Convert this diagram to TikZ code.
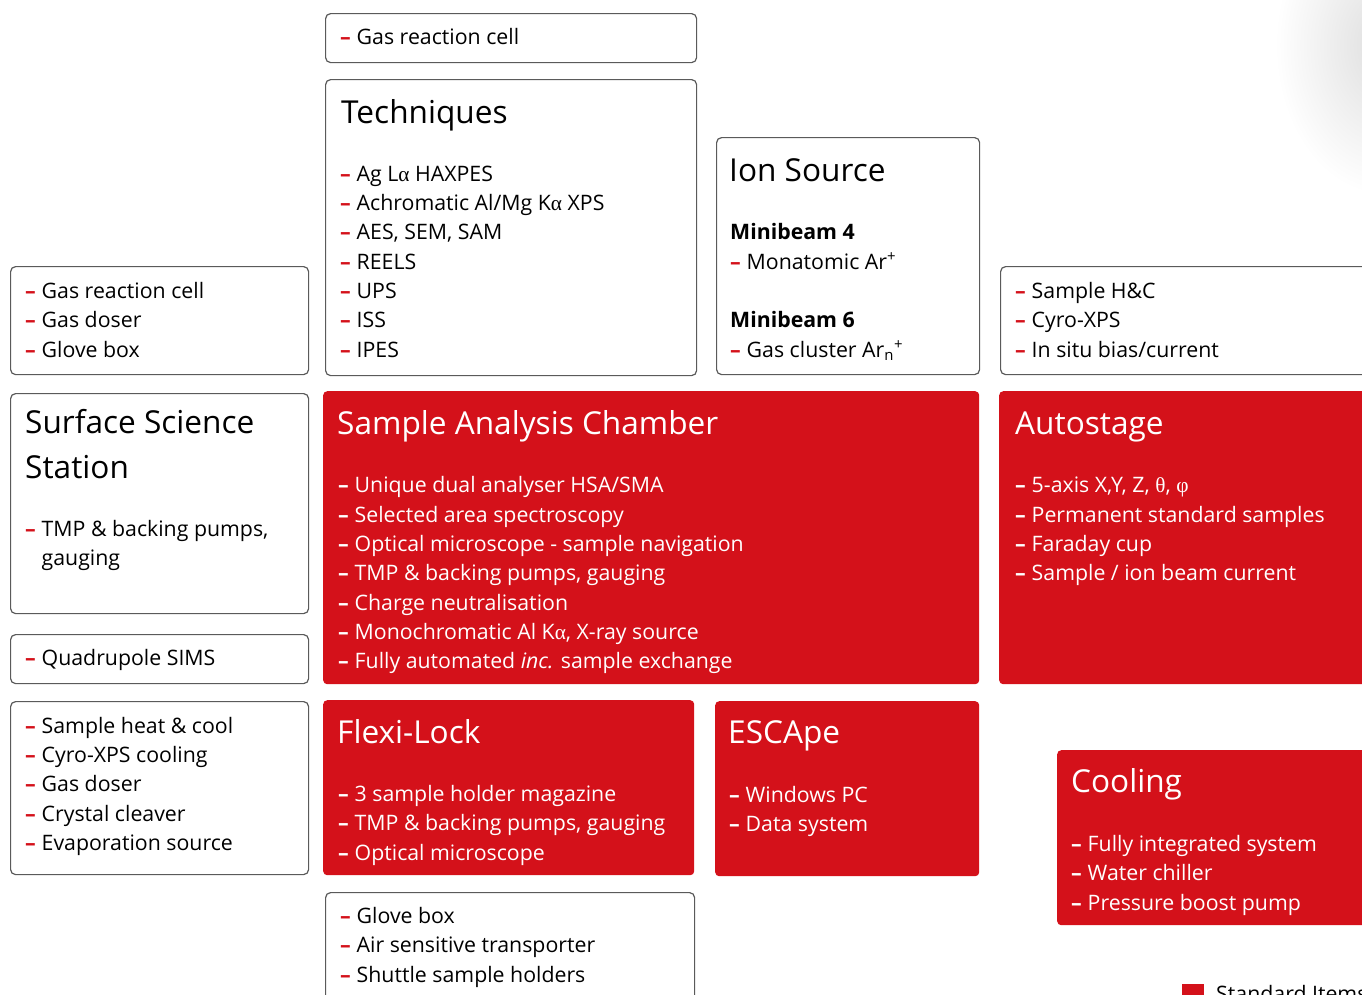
\documentclass[tikz,border=0pt]{standalone}
\usepackage{fontspec}
\setmainfont{Open Sans}
\newfontfamily\grk{Liberation Serif}
\definecolor{brand}{RGB}{212,17,26}
\definecolor{frame}{RGB}{90,90,90}
\tikzset{
  wbox/.style={draw=frame, line width=1.2pt, rounded corners=5pt, fill=white, anchor=north west, inner sep=0pt},
  rbox/.style={fill=brand, rounded corners=4pt, anchor=north west, inner sep=0pt},
  txt/.style={anchor=base west, inner sep=0pt, font=\fontsize{21.3}{25}\selectfont, text=black},
  wtxt/.style={txt, text=white},
  ttl/.style={anchor=base west, inner sep=0pt, font=\fontsize{31.6}{36}\selectfont, text=black},
  wttl/.style={ttl, text=white},
  bld/.style={txt, font=\fontsize{21.3}{25}\selectfont\bfseries},
}
\newcommand\itw[4]{\node[txt] (#1) at (#2,#3) {\makebox[16.5pt][l]{\textcolor{brand}{\textbf{–}}}#4};}
\newcommand\itr[4]{\node[wtxt] (#1) at (#2,#3) {\makebox[16.5pt][l]{\textbf{–}}#4};}
\newcommand\bx[6]{\node[#1, minimum width=#4, minimum height=#5] (#6) at (#2,#3) {};}
\newcommand\gk[1]{{\grk #1}}
\begin{document}
\begin{tikzpicture}[x=1pt,y=-1pt]
\useasboundingbox (0,0) rectangle (1362,994);
\clip (0,0) rectangle (1362,994);
% faint shadow top right
\shade[inner color=black!13, outer color=white] (1385,45) ellipse [x radius=110, y radius=150];

% ---- boxes ----
\bx{wbox}{325}{13}{371}{49}{gasTop}
\bx{wbox}{325}{79}{371}{296}{tech}
\bx{wbox}{716}{137}{263}{237}{ion}
\bx{wbox}{10}{266}{298}{108}{leftTop}
\bx{wbox}{1000}{266}{380}{108}{rightTop}
\bx{wbox}{10}{393}{298}{220}{sss}
\bx{rbox}{323}{391}{656}{293}{sac}
\bx{rbox}{999}{391}{380}{293}{auto}
\bx{wbox}{10}{634}{298}{49}{quad}
\bx{wbox}{10}{701}{298}{173}{leftBot}
\bx{rbox}{323}{700}{371}{175}{flexi}
\bx{rbox}{715}{701}{264}{175}{escape}
\bx{rbox}{1057}{750}{330}{175}{cool}
\bx{wbox}{325}{892}{369}{130}{bottom}

% ---- top gas cell ----
\itw{g1}{340}{44}{Gas reaction cell}

% ---- Techniques ----
\node[ttl] (techT) at (341,123) {Techniques};
\itw{t1}{340}{181}{Ag L\gk{α} HAXPES}
\itw{t2}{340}{210}{Achromatic Al/Mg K\gk{α} XPS}
\itw{t3}{340}{239}{AES, SEM, SAM}
\itw{t4}{340}{269}{REELS}
\itw{t5}{340}{298}{UPS}
\itw{t6}{340}{327}{ISS}
\itw{t7}{340}{357}{IPES}

% ---- Ion Source ----
\node[ttl] (ionT) at (729,181) {Ion Source};
\node[bld] (mb4) at (730,239) {Minibeam 4};
\itw{i1}{730}{269}{Monatomic Ar\textsuperscript{+}}
\node[bld] (mb6) at (730,327) {Minibeam 6};
\itw{i2}{730}{357}{Gas cluster Ar\textsubscript{n}\textsuperscript{+}}

% ---- left top ----
\itw{l1}{25}{298}{Gas reaction cell}
\itw{l2}{25}{327}{Gas doser}
\itw{l3}{25}{357}{Glove box}

% ---- right top ----
\itw{r1}{1015}{298}{Sample H\&C}
\itw{r2}{1015}{327}{Cyro-XPS}
\itw{r3}{1015}{357}{In situ bias/current}

% ---- Surface Science Station ----
\node[ttl] (sssT1) at (25,433) {Surface Science};
\node[ttl] (sssT2) at (25,478) {Station};
\itw{s1}{25}{536}{TMP \& backing pumps,}
\node[txt] (s2) at (41.5,565) {gauging};

% ---- Sample Analysis Chamber ----
\node[wttl] (sacT) at (337,434) {Sample Analysis Chamber};
\itr{c1}{338}{492}{Unique dual analyser HSA/SMA}
\itr{c2}{338}{522}{Selected area spectroscopy}
\itr{c3}{338}{551}{Optical microscope - sample navigation}
\itr{c4}{338}{580}{TMP \& backing pumps, gauging}
\itr{c5}{338}{610}{Charge neutralisation}
\itr{c6}{338}{639}{Monochromatic Al K\gk{α}, X-ray source}
\itr{c7}{338}{668}{Fully automated \textit{inc.} sample exchange}

% ---- Autostage ----
\node[wttl] (autoT) at (1015,434) {Autostage};
\itr{a1}{1015}{492}{5-axis X,Y, Z, \gk{θ}, \gk{φ}}
\itr{a2}{1015}{522}{Permanent standard samples}
\itr{a3}{1015}{551}{Faraday cup}
\itr{a4}{1015}{580}{Sample / ion beam current}

% ---- Quadrupole ----
\itw{q1}{25}{665}{Quadrupole SIMS}

% ---- left bottom ----
\itw{lb1}{25}{733}{Sample heat \& cool}
\itw{lb2}{25}{762}{Cyro-XPS cooling}
\itw{lb3}{25}{791}{Gas doser}
\itw{lb4}{25}{821}{Crystal cleaver}
\itw{lb5}{25}{850}{Evaporation source}

% ---- Flexi-Lock ----
\node[wttl] (flexiT) at (337,743) {Flexi-Lock};
\itr{f1}{338}{801}{3 sample holder magazine}
\itr{f2}{338}{830}{TMP \& backing pumps, gauging}
\itr{f3}{338}{860}{Optical microscope}

% ---- ESCApe ----
\node[wttl] (escT) at (728,743) {ESCApe};
\itr{e1}{729}{802}{Windows PC}
\itr{e2}{729}{831}{Data system}

% ---- Cooling ----
\node[wttl] (coolT) at (1071,792) {Cooling};
\itr{k1}{1071}{851}{Fully integrated system}
\itr{k2}{1071}{880}{Water chiller}
\itr{k3}{1071}{910}{Pressure boost pump}

% ---- bottom ----
\itw{b1}{340}{923}{Glove box}
\itw{b2}{340}{952}{Air sensitive transporter}
\itw{b3}{340}{982}{Shuttle sample holders}

% ---- legend ----
\node[fill=brand, minimum size=22pt, inner sep=0pt, anchor=north west] (leg) at (1182,984) {};
\node[txt] (legT) at (1216,1001) {Standard Items};
\end{tikzpicture}
\end{document}
